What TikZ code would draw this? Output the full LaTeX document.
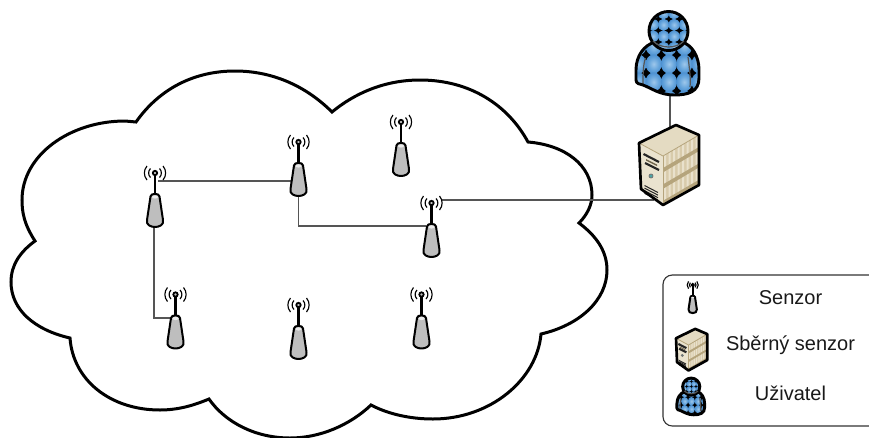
\documentclass[tikz,border=0pt]{standalone}
\usepackage{fontspec}
\setmainfont{Liberation Sans}
\usetikzlibrary{calc}
\pgfdeclareradialshading{blob}{\pgfpoint{0bp}{0bp}}{rgb(0bp)=(0.62,0.78,0.92); rgb(14bp)=(0.42,0.66,0.87); rgb(30bp)=(0.25,0.53,0.8); rgb(42bp)=(0.18,0.42,0.7); rgb(50bp)=(0.1,0.26,0.48); rgb(100bp)=(0.1,0.26,0.48)}
\definecolor{linkgray}{HTML}{555555}
\definecolor{bodygray}{HTML}{BEBEBE}
\definecolor{tanA}{HTML}{D8CBAB}
\definecolor{tanB}{HTML}{E9E1CC}
\definecolor{tanC}{HTML}{B5A47C}
\definecolor{tanTop}{HTML}{E4DBC2}
\definecolor{tanFront}{HTML}{EAE3CF}
\def\lwk{1}
\tikzset{
  x=0.75pt,y=-0.75pt,
  cloudline/.style={draw=black,line width=2.25pt,line join=miter},
  linkline/.style={draw=linkgray,line width=1.05pt},
  legendtext/.style={font=\fontsize{15pt}{18pt}\selectfont,text=black!90,inner sep=0pt,anchor=center},
  sensor/.pic={
    \draw[line width=\lwk*1.7pt] (0,0) -- (0,21);
    \draw[line width=\lwk*0.85pt] (-4.5,-4.5) .. controls (-7,-2) and (-7,2) .. (-4.5,4.5);
    \draw[line width=\lwk*0.85pt] (4.5,-4.5) .. controls (7,-2) and (7,2) .. (4.5,4.5);
    \draw[line width=\lwk*0.85pt] (-8,-7) .. controls (-11.5,-3) and (-11.5,3) .. (-8,7);
    \draw[line width=\lwk*0.85pt] (8,-7) .. controls (11.5,-3) and (11.5,3) .. (8,7);
    \draw[fill=bodygray,line width=\lwk*1.3pt] (0,0) circle (2.2);
    \draw[fill=bodygray,line width=\lwk*1.5pt,line join=round] (-4.5,23.5) .. controls (-4.5,20) and (4.5,20) .. (4.5,23.5) -- (8,47) .. controls (9.2,52) and (4,54) .. (0,54) .. controls (-4,54) and (-9.2,52) .. (-8,47) -- cycle;
    \fill[black!8] (0,24) ellipse (3 and 1.6);
  },
  server/.pic={
    \fill[tanA] (0,0) -- (36,-21) -- (36,29) -- (0,49) -- cycle;
    \begin{scope}
      \clip (0,0) -- (36,-21) -- (36,29) -- (0,49) -- cycle;
      \foreach \i in {0,...,7}{
        \fill[tanB] ({\i*4.5+1},{-\i*2.65-0.6}) -- ({\i*4.5+3.2},{-\i*2.65-1.9}) -- ({\i*4.5+3.2},{-\i*2.65+48}) -- ({\i*4.5+1},{-\i*2.65+49.3}) -- cycle;
      }
      \foreach \j in {0,1,2}{
        \fill[tanC] (0,{\j*16.4+12}) -- (36,{\j*16.4-9}) -- (36,{\j*16.4-5}) -- (0,{\j*16.4+16.4}) -- cycle;
      }
    \end{scope}
    \fill[tanFront] (0,0) -- (-24,-13) -- (-22,33) -- (0,49) -- cycle;
    \fill[tanTop] (0,0) -- (-24,-13) -- (13,-31) -- (36,-21) -- cycle;
    \draw[tanC,line width=\lwk*0.6pt] (-24,-13) -- (0,0) -- (36,-21);
    \draw[tanC,line width=\lwk*0.6pt] (0,0) -- (0,49);
    \draw[black!85,line width=\lwk*1.6pt] (-19.5,-2) -- (-4,6);
    \draw[black!85,line width=\lwk*1.6pt] (-18,7) -- (-4,14);
    \fill[tanC!60!black] (-17,3) -- (-6,8.5) -- (-6,10) -- (-17,4.5) -- cycle;
    \draw[fill=teal!70!white,draw=black!55,line width=\lwk*0.6pt] (-12,20) circle (2);
    \foreach \k in {0,1,2,3}{
      \draw[black!85,line width=\lwk*0.75pt] ({-18.5},{29.5+\k*2.6}) -- (-5,{36.5+\k*2.6});
    }
    \draw[black,line width=\lwk*2pt,line join=round] (13,-31) -- (36,-21) -- (36,29) -- (0,49) -- (-22,33) -- (-24,-13) -- cycle;
  },
  user/.pic={
    \def\bodypath{(-13,-8) .. controls (-24,-5) and (-32,6) .. (-32,20) -- (-32,30) .. controls (-32,34) and (-28,34) .. (-25,35) .. controls (-17,38) and (-8,45) .. (6,45) .. controls (20,45) and (31,42) .. (31,28) -- (31,20) .. controls (31,6) and (24,-5) .. (14,-8) .. controls (8,-2) and (-8,-2) .. (-13,-8) -- cycle}
    \begin{scope}
      \clip \bodypath;
      \fill[black] (-40,-20) rectangle (40,50);
      \foreach \i in {-2,...,3}{
        \foreach \j in {-1,0,1,2}{
          \shade[shading=blob] ({\i*15.3-22+7.65},{\j*18+5+9}) ellipse (8.1 and 9.5);
        }
      }
    \end{scope}
    \draw[linkgray,line width=\lwk*0.9pt] (-22.5,8) .. controls (-25,15) and (-25,25) .. (-25,34);
    \draw[linkgray,line width=\lwk*0.9pt] (20,7) .. controls (21,15) and (23,28) .. (22,37);
    \draw[black,line width=\lwk*2.2pt,line join=round] \bodypath;
    \begin{scope}
      \clip (0.5,-19) circle (19.5);
      \fill[black] (-25,-45) rectangle (25,5);
      \foreach \i in {-2,...,2}{
        \foreach \j in {-1,0,1,2}{
          \shade[shading=blob] ({\i*10.5-9.7+5.25},{\j*11.5-31+5.75}) ellipse (5.6 and 6.1);
        }
      }
    \end{scope}
    \draw[black,line width=\lwk*2.2pt] (0.5,-19) circle (19.5);
    \draw[linkgray,line width=\lwk*0.9pt] (-15,-9) .. controls (-7,-1) and (8,-1) .. (16,-9);
  }
}
\begin{document}
\begin{tikzpicture}
\useasboundingbox (0,0) rectangle (869,437);
\clip (0,0) rectangle (869,437);
\coordinate (s1) at (155,173);
\coordinate (s2) at (298.5,142);
\coordinate (s3) at (401,122);
\coordinate (s4) at (431.5,203);
\coordinate (s5) at (175.5,294.5);
\coordinate (s6) at (298.5,305);
\coordinate (s7) at (421.5,294.5);
\coordinate (srv) at (663,156);
\coordinate (usr) at (668,50);
% cloud
\draw[cloudline] (35,241) .. controls (24,224) and (22,212) .. (22,200)
  .. controls (22,155) and (70,121) .. (125,121) -- (136,122)
  .. controls (160,88) and (195,71) .. (235,71)
  .. controls (275,71) and (308,88) .. (332,112)
  .. controls (355,93) and (385,80) .. (420,80)
  .. controls (470,80) and (508,105) .. (528,142)
  .. controls (565,145) and (592,165) .. (592,195)
  .. controls (592,205) and (587,215) .. (579,223)
  .. controls (595,235) and (607,250) .. (607,270)
  .. controls (607,300) and (580,325) .. (541,334)
  .. controls (537,380) and (490,419) .. (433,419)
  .. controls (410,419) and (388,414) .. (371,405)
  .. controls (350,425) and (320,438) .. (290,438)
  .. controls (255,438) and (225,422) .. (209,399)
  .. controls (190,407) and (175,410) .. (160,410)
  .. controls (110,410) and (73,380) .. (70,338)
  .. controls (35,330) and (11,310) .. (11,282)
  .. controls (11,265) and (20,252) .. (35,241) -- cycle;
% links
\draw[linkline] ($(s1)+(3,8)$) -- ($(s2)+(-6,39)$);
\draw[linkline] ($(s1)+(-1,54)$) |- ($(s5)+(-5,23.5)$);
\draw[linkline] ($(s2)+(0,54)$) |- ($(s4)+(-6,23)$);
\draw[linkline] ($(s4)+(10,-3)$) -- ($(srv)+(-9,44)$);
\draw[linkline] ($(usr)+(2,45)$) -- ($(srv)+(7,-28)$);
% sensors
\foreach \n in {s1,s2,s3,s4,s5,s6,s7}{\pic at (\n) {sensor};}
\pic at (srv) {server};
\pic at (usr) {user};
% legend
\draw[draw=black!80,line width=0.85pt,rounded corners=7pt] (663,275) rectangle (885,426);
\coordinate (ls) at (692.7,285);
\coordinate (lb) at (688.5,345);
\coordinate (lu) at (691,395);
\pic[scale=0.52] at (ls) {sensor};
\pic[scale=0.52] at (lb) {server};
\pic[scale=0.44] at (lu) {user};
\node[legendtext] (t1) at (790.5,297.5) {Senzor};
\node[legendtext] (t2) at (790.5,345) {Sběrný senzor};
\node[legendtext] (t3) at (790.5,393.5) {Uživatel};
\end{tikzpicture}
\end{document}
